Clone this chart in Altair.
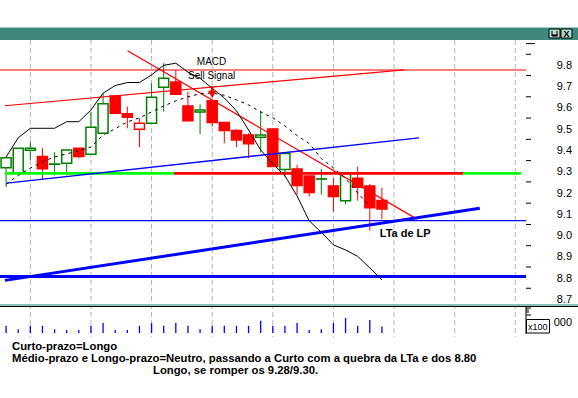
import altair as alt
import pandas as pd

# ---------------- data ----------------
candle_index = list(range(32))
opens = [9.316, 9.291, 9.399, 9.369, 9.333, 9.338, 9.408, 9.380, 9.479, 9.654,
         9.570, 9.498, 9.526, 9.695, 9.719, 9.607, 9.578, 9.631, 9.529, 9.491,
         9.471, 9.460, 9.499, 9.308, 9.311, 9.278, 9.263, 9.231, 9.161, 9.267,
         9.231, 9.162]
highs = [9.364, 9.408, 9.440, 9.410, 9.390, 9.400, 9.408, 9.580, 9.667, 9.654,
         9.604, 9.549, 9.714, 9.808, 9.776, 9.675, 9.615, 9.631, 9.529, 9.498,
         9.479, 9.584, 9.499, 9.384, 9.330, 9.278, 9.311, 9.267, 9.288, 9.322,
         9.240, 9.223]
lows = [9.226, 9.285, 9.353, 9.260, 9.280, 9.280, 9.361, 9.380, 9.479, 9.573,
        9.502, 9.413, 9.526, 9.580, 9.662, 9.538, 9.474, 9.510, 9.432, 9.413,
        9.361, 9.388, 9.322, 9.275, 9.190, 9.181, 9.190, 9.110, 9.145, 9.162,
        9.021, 9.074]
closes = [9.364, 9.408, 9.408, 9.312, 9.334, 9.400, 9.369, 9.507, 9.617, 9.573,
          9.554, 9.526, 9.648, 9.737, 9.662, 9.538, 9.588, 9.529, 9.491, 9.447,
          9.429, 9.471, 9.322, 9.384, 9.233, 9.200, 9.264, 9.181, 9.288, 9.225,
          9.129, 9.122]
volume = [21, 11, 21, 21, 11, 9, 9, 21, 29, 9, 9, 21, 29, 21, 29, 21, 11, 21, 21, 21,
          21, 36, 21, 21, 29, 9, 11, 29, 44, 21, 38, 19]

# indicator lines
solid_line = [9.367, 9.457, 9.502, 9.502, 9.502, 9.533, 9.533, 9.588, 9.667, 9.703,
              9.717, 9.717, 9.753, 9.798, 9.808, 9.766, 9.737, 9.690, 9.645, 9.584,
              9.494, 9.400, 9.335, 9.278, 9.184, 9.067, 9.013, 8.954, 8.930, 8.900,
              8.846, 8.789]
dashed_line = [9.240, 9.280, 9.315, 9.345, 9.367, 9.382, 9.396, 9.414, 9.470, 9.500,
               9.532, 9.551, 9.579, 9.607, 9.631, 9.650, 9.664, 9.668, 9.657, 9.635,
               9.612, 9.579, 9.551, 9.513, 9.468, 9.430, 9.360, 9.316, 9.266, 9.198,
               9.135]

# drawn trend lines: (name, start index, start price, end index, end price)
trend_names = ["red_up", "red_down", "blue_thin", "lta_lp"]
trend_x1 = [-0.09, 10.02, 0.07, -0.09]
trend_p1 = [9.608, 9.866, 9.244, 8.787]
trend_x2 = [32.84, 33.89, 34.05, 39.07]
trend_p2 = [9.777, 9.075, 9.457, 9.126]

# horizontal levels
red_level = 9.776
blue_level = 9.068
blue_level_thick = 8.805
sr_level = 9.29
sr_seg_start = [-0.09, 13.83, 37.69]
sr_seg_end = [13.83, 37.69, 42.47]
sr_seg_color = ["#00ff00", "#ff0000", "#00ff00"]

grid_idx = [2, 7, 12, 17, 22, 27, 32, 37, 42]
price_ticks = [8.7, 8.8, 8.9, 9.0, 9.1, 9.2, 9.3, 9.4, 9.5, 9.6, 9.7, 9.8]
price_labels = ["8.7", "8.8", "8.9", "9.0", "9.1", "9.2", "9.3", "9.4", "9.5", "9.6", "9.7", "9.8"]
minor_ticks = [8.75, 8.85, 8.95, 9.05, 9.15, 9.25, 9.35, 9.45, 9.55, 9.65, 9.75, 9.85]
top_tick = [9.9]

footer_lines = ["Curto-prazo=Longo",
                "Médio-prazo e Longo-prazo=Neutro, passando a Curto com a quebra da LTa e dos 8.80",
                "Longo, se romper os 9.28/9.30."]

# ---------------- tables ----------------
stroke = ["#008000" if (i == 0 or c >= closes[i - 1]) else "#ff0000" for i, c in enumerate(closes)]
fill = ["#ffffff" if c > o else s for o, c, s in zip(opens, closes, stroke)]
cdf = pd.DataFrame({"i": candle_index, "o": opens, "h": highs, "l": lows, "c": closes,
                    "stroke": stroke, "fill": fill, "v": volume})
sdf = pd.DataFrame({"i": candle_index, "p": solid_line})
ddf = pd.DataFrame({"i": candle_index[:len(dashed_line)], "p": dashed_line})
rows = []
for n, a, b, c, d in zip(trend_names, trend_x1, trend_p1, trend_x2, trend_p2):
    rows.append({"name": n, "i": a, "p": b})
    rows.append({"name": n, "i": c, "p": d})
tdf = pd.DataFrame(rows)
segdf = pd.DataFrame({"a": sr_seg_start, "b": sr_seg_end, "col": sr_seg_color, "p": [sr_level] * 3})

xs = alt.Scale(domain=[-0.089, 42.47], nice=False, zero=False)
ys = alt.Scale(domain=[8.676, 9.917], nice=False, zero=False)
vs = alt.Scale(domain=[0, 44], range=[293, 278], nice=False, zero=False)

FONT = "Liberation Sans"


def X(f="i"):
    return alt.X(f"{f}:Q", scale=xs, axis=None)


def Y(f, axis=None):
    return alt.Y(f"{f}:Q", scale=ys, axis=axis)


price_axis = alt.Axis(orient="right", values=price_ticks, tickSize=9, labels=False,
                      domainColor="black", tickColor="black", domainWidth=1, tickWidth=1,
                      title=None, grid=False)

grid = alt.Chart(pd.DataFrame({"i": grid_idx})).mark_rule(
    color="#b4b4b4", strokeDash=[5, 3], strokeWidth=1).encode(
    x=X(), y=alt.value(0), y2=alt.value(297))

wicks = alt.Chart(cdf).mark_rule(strokeWidth=1).encode(
    x=X(), y=Y("l", price_axis), y2="h:Q", color=alt.Color("stroke:N", scale=None))

bodies = alt.Chart(cdf).mark_bar(size=10, strokeWidth=1.5).encode(
    x=X(), y=Y("o"), y2="c:Q",
    fill=alt.Fill("fill:N", scale=None), stroke=alt.Stroke("stroke:N", scale=None))

minor = alt.Chart(pd.DataFrame({"p": minor_ticks})).mark_rule(color="black").encode(
    x=alt.value(526), x2=alt.value(531), y=Y("p"))
topt = alt.Chart(pd.DataFrame({"p": top_tick})).mark_rule(color="black").encode(
    x=alt.value(526), x2=alt.value(535), y=Y("p"))
tick_labels = alt.Chart(pd.DataFrame({"p": price_ticks, "t": price_labels})).mark_text(
    font=FONT, fontSize=11, color="black", align="right", baseline="middle", dy=1).encode(
    x=alt.value(572), y=Y("p"), text="t:N")

red_h = alt.Chart(pd.DataFrame({"p": [red_level]})).mark_rule(color="#ff0000", strokeWidth=1.2).encode(y=Y("p"))
blue_h = alt.Chart(pd.DataFrame({"p": [blue_level]})).mark_rule(color="#0000ff", strokeWidth=1.2).encode(y=Y("p"))
blue_hk = alt.Chart(pd.DataFrame({"p": [blue_level_thick]})).mark_rule(color="#0000ff", strokeWidth=3).encode(y=Y("p"))
sr = alt.Chart(segdf).mark_rule(strokeWidth=2.6).encode(
    x=X("a"), x2="b:Q", y=Y("p"), color=alt.Color("col:N", scale=None))

thin_red = alt.Chart(tdf[tdf.name.isin(["red_up", "red_down"])]).mark_line(
    color="#ff0000", strokeWidth=1.2).encode(x=X(), y=Y("p"), detail="name:N")
thin_blue = alt.Chart(tdf[tdf.name == "blue_thin"]).mark_line(
    color="#0000ff", strokeWidth=1.3).encode(x=X(), y=Y("p"), detail="name:N")
thick_blue = alt.Chart(tdf[tdf.name == "lta_lp"]).mark_line(
    color="#0000ff", strokeWidth=3).encode(x=X(), y=Y("p"), detail="name:N")

solid = alt.Chart(sdf).mark_line(color="black", strokeWidth=1).encode(x=X(), y=Y("p"))
dashed = alt.Chart(ddf).mark_line(color="black", strokeWidth=1, strokeDash=[3, 4]).encode(x=X(), y=Y("p"))

notes = alt.Chart(pd.DataFrame({"i": [16.95, 16.95], "p": [9.814, 9.746],
                                "t": ["MACD", "Sell Signal"]})).mark_text(
    font=FONT, fontSize=10, color="black", align="center", baseline="middle").encode(
    x=X(), y=Y("p"), text="t:N")
arrow_shaft = alt.Chart(pd.DataFrame({"i": [17], "a": [9.700], "b": [9.668]})).mark_rule(
    color="#ff0000", strokeWidth=2.5).encode(x=X(), y=Y("a"), y2="b:Q")
arrow_head = alt.Chart(pd.DataFrame({"i": [17], "p": [9.661]})).mark_point(
    shape="triangle-down", filled=True, color="#ff0000", size=70, opacity=1).encode(x=X(), y=Y("p"))
lta = alt.Chart(pd.DataFrame({"i": [30.82], "p": [9.005], "t": ["LTa de LP"]})).mark_text(
    font=FONT, fontSize=11, fontWeight="bold", color="black", align="left", baseline="middle").encode(
    x=X(), y=Y("p"), text="t:N")

price = alt.layer(grid, wicks, bodies, minor, topt, tick_labels, red_h, blue_h, blue_hk, sr,
                  thin_red, thin_blue, thick_blue, solid, dashed, notes,
                  arrow_shaft, arrow_head, lta)

vol = alt.Chart(cdf).mark_bar(size=1.3, color="#0000ff").encode(
    x=X(), y=alt.Y("v:Q", scale=vs, axis=None))

# ---------------- window chrome (pixel decorations) ----------------
one = pd.DataFrame({"k": [0]})


def box(x1, x2, y1, y2, **kw):
    return alt.Chart(one).mark_rect(**kw).encode(
        x=alt.value(x1), x2=alt.value(x2), y=alt.value(y1 - 40), y2=alt.value(y2 - 40))


def rule(x1, x2, y1, y2, **kw):
    return alt.Chart(one).mark_rule(**kw).encode(
        x=alt.value(x1), x2=alt.value(x2), y=alt.value(y1 - 40), y2=alt.value(y2 - 40))


def label(x, y, text, **kw):
    return alt.Chart(one).mark_text(**kw).encode(
        x=alt.value(x), y=alt.value(y - 40), text=alt.value(text))


chrome = [
    box(0, 578, 27, 40, color="#40887c"),
    rule(0, 578, 27.5, 27.5, color="#9fd0c4", strokeWidth=1),
    box(549, 560, 29, 38, color="#b4d6cc", stroke="black", strokeWidth=1),
    box(561, 572, 29, 38, color="#b4d6cc", stroke="black", strokeWidth=1),
    rule(552, 552, 31, 36, color="black", strokeWidth=1),
    rule(557, 557, 31, 36, color="black", strokeWidth=1),
    rule(552, 557.5, 35.5, 35.5, color="black", strokeWidth=2),
    label(566.5, 34, "X", font=FONT, fontSize=9, fontWeight="bold", color="black",
          align="center", baseline="middle"),
    box(0, 578, 304, 306, color="#86c2b6"),
    rule(0, 578, 306.5, 306.5, color="black", strokeWidth=1),
    rule(526, 526, 307, 334, color="black", strokeWidth=1),
    rule(526, 531, 308, 308, color="black", strokeWidth=1),
    rule(526, 529, 310, 310, color="black", strokeWidth=1),
    rule(526, 529, 312, 312, color="black", strokeWidth=1),
    rule(526, 531, 315, 315, color="black", strokeWidth=1),
    label(572, 323, "000", font=FONT, fontSize=11, color="black", align="right", baseline="middle"),
    box(526.5, 549.5, 319.5, 333, color="white", stroke="black", strokeWidth=1),
    label(528, 327, "x100", font=FONT, fontSize=9, color="black", align="left", baseline="middle"),
    label(12, 347, footer_lines[0], font=FONT, fontSize=11.3, fontWeight="bold", color="black",
          align="left", baseline="middle"),
    label(12, 359, footer_lines[1], font=FONT, fontSize=11.3, fontWeight="bold", color="black",
          align="left", baseline="middle"),
    label(153, 371, footer_lines[2], font=FONT, fontSize=11.3, fontWeight="bold", color="black",
          align="left", baseline="middle"),
]

chart = alt.layer(price, vol, *chrome).resolve_scale(y="independent").properties(
    width=526, height=264,
    autosize=alt.AutoSizeParams(type="none"),
    padding={"left": 0, "top": 40, "right": 52, "bottom": 94},
    background="white",
).configure_view(stroke=None)

chart.save("out.html", embed_options={"renderer": "svg", "actions": False})
